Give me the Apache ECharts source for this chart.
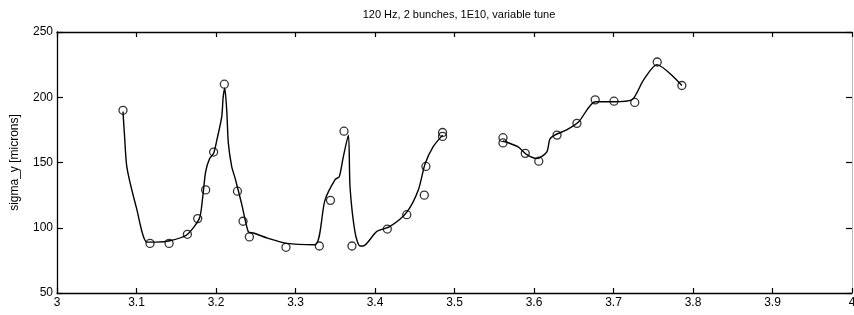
<!DOCTYPE html>
<html>
<head>
<meta charset="utf-8">
<script src="https://cdn.jsdelivr.net/npm/echarts@6/dist/echarts.min.js"></script>
<style>
  html, body { margin: 0; padding: 0; background: #fff; }
  #chart { width: 854px; height: 315px; }
</style>
</head>
<body>
<div id="chart"></div>
<script>
// measured points (tune, sigma_y)
var tuneX = [3.083, 3.117, 3.141, 3.164, 3.177, 3.187, 3.197, 3.2105, 3.227, 3.234, 3.242, 3.288, 3.330, 3.344, 3.361, 3.371, 3.4155, 3.440, 3.462, 3.464, 3.485, 3.485, 3.561, 3.561, 3.589, 3.606, 3.629, 3.654, 3.677, 3.7006, 3.7267, 3.755, 3.786]
var sigmaY = [190, 88, 88, 95, 107, 129, 158, 210, 128, 105, 93, 85, 86, 121, 174, 86, 99, 110, 125, 147, 170, 173, 165, 169, 157, 151, 171, 180, 198, 197, 196, 227, 209]

// fitted curve, null = gap between the two scans
var fitX = [3.083, 3.085, 3.088, 3.100, 3.113, 3.125, 3.142, 3.163, 3.179, 3.183, 3.187, 3.192, 3.197, 3.201, 3.2072, 3.209, 3.211, 3.2135, 3.2155, 3.2197, 3.224, 3.232, 3.2406, 3.247, 3.265, 3.289, 3.3245, 3.337, 3.350, 3.355, 3.360, 3.3665, 3.3686, 3.375, 3.381, 3.385, 3.402, 3.419, 3.44, 3.4545, 3.463, 3.473, 3.485,
  3.52,
  3.561, 3.580, 3.591, 3.6036, 3.616, 3.620, 3.626, 3.641, 3.656, 3.677, 3.700, 3.723, 3.7375, 3.7545, 3.786]
var fitY = [189, 170, 146, 115, 89, 89, 90, 94.4, 107, 122, 143, 153, 157, 167, 185, 200, 207, 190, 165, 147, 138, 119, 97, 96, 92, 88, 87, 121, 137, 139, 154, 171, 131, 96, 86, 86, 97, 101, 112, 129, 149, 162, 171,
  null,
  166.5, 162, 156, 153, 158, 168, 171, 175, 181, 196.6, 196.6, 198, 213, 225, 209]

var titleText = '120 Hz, 2 bunches, 1E10, variable tune'
var yName = 'sigma_y [microns]'

var points = tuneX.map(function (x, i) { return [x, sigmaY[i]] })
var curve = fitX.map(function (x, i) { return [x, fitY[i]] })

var chart = echarts.init(document.getElementById('chart'))
var font = 'Liberation Sans, Arial, sans-serif'
var axisLine = { show: true, lineStyle: { color: '#000', width: 1.3 } }

chart.setOption({
  animation: false,
  backgroundColor: '#fff',
  title: {
    text: titleText,
    left: 454,
    textAlign: 'center',
    top: 4,
    textStyle: { fontFamily: font, fontSize: 11, fontWeight: 'normal', color: '#000' }
  },
  grid: { left: 57, right: 2, top: 32, bottom: 22, outerBoundsMode: 'none', containLabel: false },
  xAxis: [{
    type: 'value', min: 3, max: 4, interval: 0.1,
    axisLine: axisLine,
    axisTick: { inside: true, length: 5, lineStyle: { color: '#000', width: 1.2 } },
    axisLabel: { color: '#000', fontFamily: font, fontSize: 12, margin: 4 },
    splitLine: { show: false }
  }, {
    type: 'value', min: 3, max: 4, interval: 0.1, position: 'top',
    axisLine: axisLine,
    axisTick: { inside: true, length: 5, lineStyle: { color: '#000', width: 1.2 } },
    axisLabel: { show: false },
    splitLine: { show: false }
  }],
  yAxis: [{
    type: 'value', min: 50, max: 250, interval: 50,
    name: yName, nameLocation: 'middle', nameGap: 36,
    nameTextStyle: { fontFamily: font, fontSize: 12, color: '#000' },
    axisLine: axisLine,
    axisTick: { inside: true, length: 6, lineStyle: { color: '#000', width: 1.2 } },
    axisLabel: { color: '#000', fontFamily: font, fontSize: 12, margin: 4 },
    splitLine: { show: false }
  }, {
    type: 'value', min: 50, max: 250, interval: 50, position: 'right',
    axisLine: { show: true, lineStyle: { color: '#bbb', width: 1 } },
    axisTick: { inside: true, length: 6, lineStyle: { color: '#000', width: 1.2 } },
    axisLabel: { show: false },
    splitLine: { show: false }
  }],
  series: [{
    type: 'line',
    data: curve,
    smooth: 0.25,
    connectNulls: false,
    showSymbol: false,
    lineStyle: { color: '#000', width: 1.4 },
    z: 2
  }, {
    type: 'scatter',
    data: points,
    symbol: 'circle',
    symbolSize: 8,
    itemStyle: { color: 'rgba(255,255,255,0)', borderColor: '#000', borderWidth: 1.3 },
    z: 3
  }]
})
</script>
</body>
</html>
